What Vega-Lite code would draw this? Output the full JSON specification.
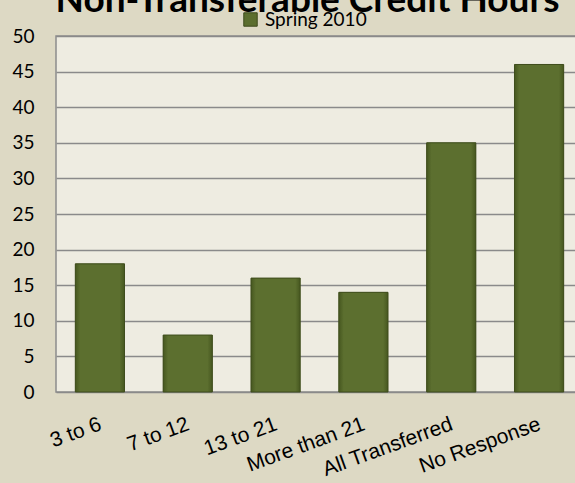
{
  "$schema": "https://vega.github.io/schema/vega-lite/v6.json",
  "width": 527,
  "height": 356,
  "autosize": {"type": "none"},
  "padding": {"left": 56, "top": 36, "right": 0, "bottom": 91},
  "background": "#ddd9c4",
  "title": {
    "text": "Non-Transferable Credit Hours",
    "font": "Lato",
    "fontSize": 37,
    "fontWeight": "bold",
    "color": "#000000",
    "anchor": "middle",
    "frame": "group",
    "baseline": "alphabetic",
    "offset": 0,
    "dx": -12,
    "dy": 39
  },
  "data": {
    "values": [
      {"category": "3 to 6", "count": 18, "series": "Spring 2010"},
      {"category": "7 to 12", "count": 8, "series": "Spring 2010"},
      {"category": "13 to 21", "count": 16, "series": "Spring 2010"},
      {"category": "More than 21", "count": 14, "series": "Spring 2010"},
      {"category": "All Transferred", "count": 35, "series": "Spring 2010"},
      {"category": "No Response", "count": 46, "series": "Spring 2010"}
    ]
  },
  "encoding": {
    "x": {
      "field": "category",
      "type": "nominal",
      "sort": null,
      "title": null,
      "scale": {"paddingInner": 0.44, "paddingOuter": 0.22},
      "axis": {
        "labelAngle": -20,
        "labelAlign": "right",
        "labelBaseline": "top",
        "labelFont": "Liberation Sans",
        "labelFontSize": 21,
        "labelColor": "#000000",
        "labelPadding": 21,
        "labelOffset": -3,
        "ticks": false,
        "domain": false,
        "grid": false
      }
    },
    "y": {
      "field": "count",
      "type": "quantitative",
      "title": null,
      "scale": {"domain": [0, 50]},
      "axis": {
        "values": [0, 5, 10, 15, 20, 25, 30, 35, 40, 45, 50],
        "labelFont": "Lato",
        "labelFontSize": 19,
        "labelColor": "#000000",
        "labelPadding": 22,
        "ticks": false,
        "domain": false,
        "grid": true,
        "gridColor": "#8a8a8a",
        "gridWidth": 1.5
      }
    }
  },
  "layer": [
    {
      "mark": {"type": "bar"},
      "encoding": {
        "color": {
          "field": "series",
          "type": "nominal",
          "scale": {"range": ["#5b6e2e"]},
          "legend": {
            "title": null,
            "orient": "none",
            "legendX": 185,
            "legendY": -26,
            "symbolType": "square",
            "symbolSize": 180,
            "symbolStrokeColor": "#3d4a1c",
            "symbolStrokeWidth": 1,
            "labelFont": "Lato",
            "labelFontSize": 19,
            "labelColor": "#000000",
            "labelOffset": 5,
            "padding": 0
          }
        }
      }
    },
    {
      "mark": {
        "type": "bar",
        "stroke": "#3f4d1d",
        "strokeWidth": 1,
        "fill": {
          "gradient": "linear",
          "x1": 0, "y1": 0, "x2": 1, "y2": 0,
          "stops": [
            {"offset": 0, "color": "#46571f"},
            {"offset": 0.1, "color": "#5c6f2f"},
            {"offset": 0.9, "color": "#5c6f2f"},
            {"offset": 1, "color": "#46571f"}
          ]
        }
      },
      "encoding": {}
    }
  ],
  "config": {
    "view": {"fill": "#eeece1", "stroke": "#8c8c8c", "strokeWidth": 1.5}
  }
}
